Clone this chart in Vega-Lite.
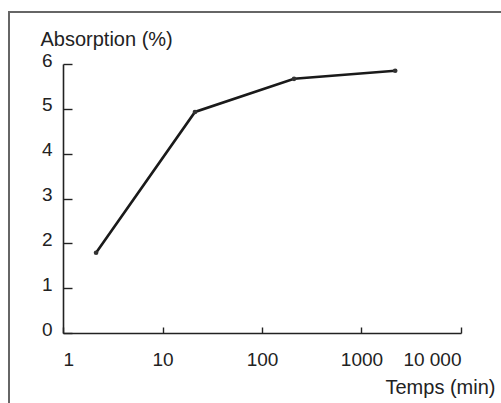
{
  "$schema": "https://vega.github.io/schema/vega-lite/v6.json",
  "autosize": "none",
  "width": 500,
  "height": 400,
  "padding": {"left": 9, "top": 12, "right": 0, "bottom": 0},
  "background": "white",
  "config": {
    "view": {"stroke": "#666666", "strokeWidth": 2},
    "font": "Liberation Sans"
  },
  "data": {
    "values": [
      {"t": 2.15, "a": 1.79},
      {"t": 21.2, "a": 4.93},
      {"t": 210, "a": 5.67},
      {"t": 2180, "a": 5.85}
    ]
  },
  "encoding": {
    "x": {
      "field": "t",
      "type": "quantitative",
      "scale": {"type": "log", "domain": [1, 10000], "range": [54, 452], "nice": false},
      "axis": {
        "orient": "bottom",
        "offset": -79,
        "values": [1, 10, 100, 1000, 10000],
        "labelExpr": "datum.value == 10000 ? '10 000' : format(datum.value, 'd')",
        "grid": false,
        "domainColor": "#222222",
        "domainWidth": 1.6,
        "tickColor": "#222222",
        "tickWidth": 1.4,
        "tickSize": -6,
        "labelPadding": 23,
        "labelFontSize": 19,
        "labelColor": "#222222",
        "labelFont": "Liberation Sans",
        "title": "Temps (min)",
        "titleFont": "Liberation Sans",
        "titleFontSize": 20,
        "titleFontWeight": "normal",
        "titleColor": "#222222",
        "titleAlign": "right",
        "titleBaseline": "alphabetic",
        "titleAnchor": null,
        "titleX": 486,
        "titleY": 60
      }
    },
    "y": {
      "field": "a",
      "type": "quantitative",
      "scale": {"domain": [0, 6], "range": [321, 52], "nice": false, "zero": false},
      "axis": {
        "orient": "left",
        "offset": -54,
        "values": [0, 1, 2, 3, 4, 5, 6],
        "grid": false,
        "domainColor": "#222222",
        "domainWidth": 1.6,
        "tickColor": "#222222",
        "tickWidth": 1.4,
        "tickSize": -9,
        "labelPadding": 20,
        "labelOffset": -4,
        "labelFontSize": 19,
        "labelColor": "#222222",
        "labelFont": "Liberation Sans",
        "title": "Absorption (%)",
        "titleFont": "Liberation Sans",
        "titleFontSize": 20,
        "titleFontWeight": "normal",
        "titleColor": "#222222",
        "titleAngle": 0,
        "titleAlign": "left",
        "titleBaseline": "alphabetic",
        "titleAnchor": null,
        "titleX": -23,
        "titleY": 33
      }
    }
  },
  "layer": [
    {"mark": {"type": "line", "color": "#1a1a1a", "strokeWidth": 2.6}},
    {"mark": {"type": "point", "filled": true, "color": "#333333", "size": 22, "opacity": 1}}
  ]
}
